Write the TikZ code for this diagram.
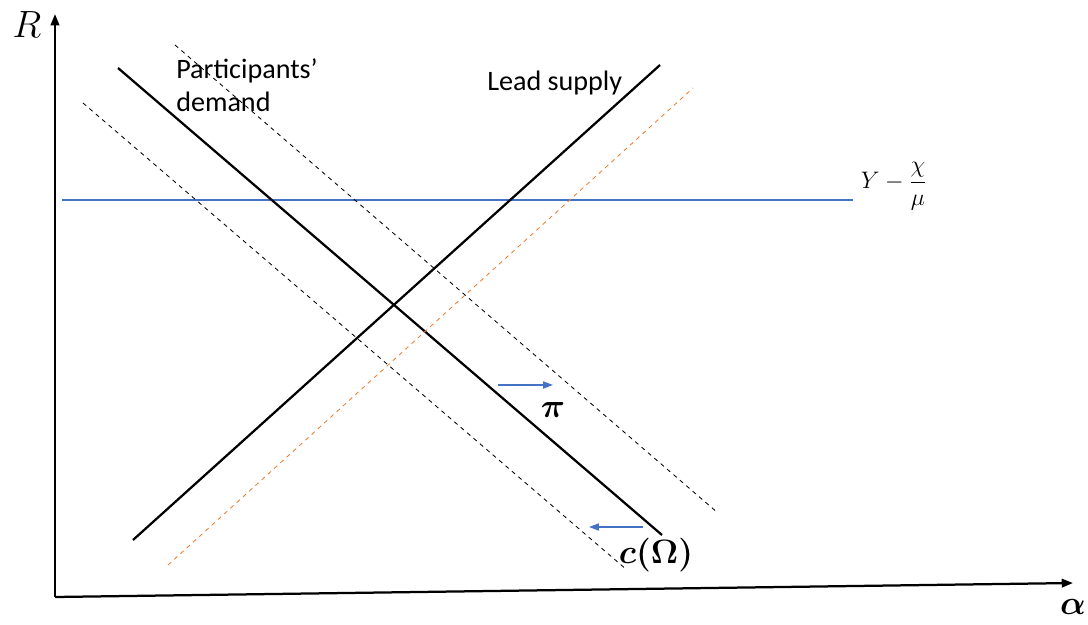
\RequirePackage{fix-cm}
\documentclass[tikz,border=0pt]{standalone}
\usepackage{fontspec}
\setmainfont{Carlito}
\usepackage{amsmath}
\usetikzlibrary{arrows.meta}
\definecolor{lineblue}{RGB}{68,114,196}
\definecolor{lineorange}{RGB}{237,125,49}
\tikzset{
  axis/.style={line width=1.6pt,-{Triangle[length=8pt,width=6pt]}},
  curve/.style={line width=1.6pt,black},
  shifted/.style={dashed,dash pattern=on 3pt off 3pt,line width=0.6pt},
  shiftarrow/.style={lineblue,line width=1pt,-{Triangle[length=7pt,width=5pt]}},
  lbl/.style={font=\fontsize{20}{24}\selectfont,inner sep=0pt,align=left},
  mlbl/.style={font=\fontsize{24}{28}\selectfont,inner sep=0pt}
}
\begin{document}
\begin{tikzpicture}[x=0.025cm,y=-0.025cm]
\useasboundingbox (0,0) rectangle (1088,625);
% axes
\coordinate (O) at (55,597);
\coordinate (Ytop) at (55,14);
\coordinate (Xend) at (1073,583);
\draw[axis] (O) -- (Ytop);
\draw[axis] (O) -- (Xend);
\node[mlbl,font=\fontsize{27}{30}\selectfont] (R) at (27,25) {$R$};
\node[mlbl] (alpha) at (1073,607) {$\boldsymbol{\alpha}$};
% horizontal line
\coordinate (h1) at (62,200);
\coordinate (h2) at (853,200);
\draw[lineblue,line width=1.6pt] (h1) -- (h2);
\node[inner sep=0pt,font=\fontsize{17}{20}\selectfont] (yl) at (894,186) {$Y-\dfrac{\chi}{\mu}$};
% demand
\coordinate (d1) at (118,68);
\coordinate (d2) at (662,535);
\draw[curve] (d1) -- (d2);
\coordinate (du1) at (175,45);
\coordinate (du2) at (718,513);
\draw[shifted] (du1) -- (du2);
\coordinate (dl1) at (83,103);
\coordinate (dl2) at (627,570);
\draw[shifted] (dl1) -- (dl2);
% supply
\coordinate (s1) at (133,540);
\coordinate (s2) at (660,65);
\draw[curve] (s1) -- (s2);
\coordinate (so1) at (168,565);
\coordinate (so2) at (693,88);
\draw[shifted,lineorange] (so1) -- (so2);
% labels
\node[lbl,anchor=north west] (pd) at (176,58) {Participants’\\demand};
\node[lbl,anchor=west] (ls) at (487,83) {Lead supply};
% shift arrows
\coordinate (a1) at (498,385);
\coordinate (a2) at (553,385);
\draw[shiftarrow] (a1) -- (a2);
\node[mlbl] (pi) at (553,410) {$\boldsymbol{\pi}$};
\coordinate (b1) at (643,527);
\coordinate (b2) at (589,527);
\draw[shiftarrow] (b1) -- (b2);
\node[mlbl] (com) at (656,555) {$\boldsymbol{c(\Omega)}$};
\end{tikzpicture}
\end{document}
